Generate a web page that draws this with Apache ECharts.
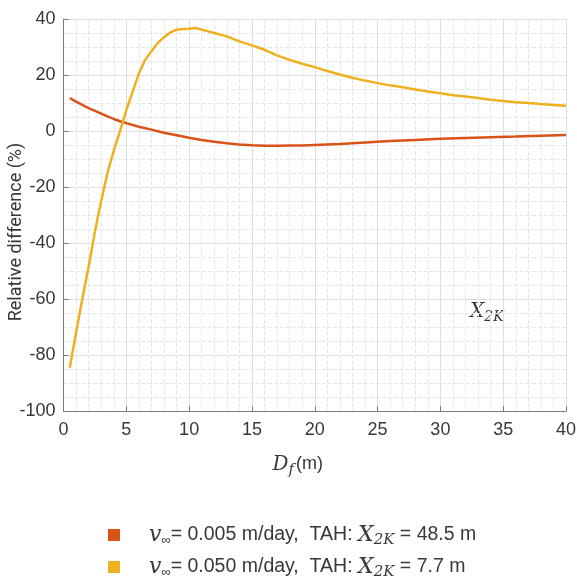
<!DOCTYPE html>
<html lang="en">
<head>
<meta charset="UTF-8">
<title>Relative difference X2K</title>
<script src="https://cdn.jsdelivr.net/npm/echarts@6/dist/echarts.min.js"></script>
<style>
  * { margin: 0; }
  html, body { height: 100%; background: #fff; }
  #chart { width: 577px; height: 578px; }
</style>
</head>
<body>
<div id="chart"></div>
<script>
// v = 0.005 m/day
const dfSlow  = [0.5, 1, 1.5, 2, 2.5, 3, 3.5, 4, 4.5, 5, 6, 7, 8, 9, 10, 11, 12, 13, 14, 15, 16, 17, 18, 19, 20, 22, 24, 26, 28, 30, 32, 34, 36, 38, 40];
const relSlow = [11.8, 10.5, 9.3, 8.2, 7.2, 6.2, 5.2, 4.3, 3.5, 2.8, 1.5, 0.5, -0.6, -1.5, -2.4, -3.2, -3.8, -4.4, -4.8, -5.1, -5.3, -5.3, -5.2, -5.2, -5.0, -4.6, -4.1, -3.6, -3.2, -2.8, -2.5, -2.2, -2.0, -1.7, -1.4];
// v = 0.050 m/day
const dfFast  = [0.5, 1, 1.5, 2, 2.5, 3, 3.5, 4, 4.5, 5, 5.5, 6, 6.5, 7, 7.5, 8, 8.5, 9, 9.5, 10, 10.5, 11, 12, 13, 14, 15, 16, 17, 18, 19, 20, 21, 22, 23, 24, 25, 26, 27, 28, 29, 30, 31, 32, 33, 34, 35, 36, 37, 38, 39, 40];
const relFast = [-84.5, -72, -60, -48.5, -36, -25, -15, -7, 0, 7.5, 14, 20.5, 25.4, 28.5, 31.4, 33.5, 35.2, 36.2, 36.4, 36.5, 36.8, 36.2, 35, 33.8, 32, 30.6, 29, 27, 25.4, 24, 22.8, 21.4, 20.2, 19, 18, 17.1, 16.3, 15.6, 14.8, 14.1, 13.5, 12.8, 12.3, 11.8, 11.2, 10.7, 10.3, 10, 9.6, 9.3, 9];

const legendText = {
  slow: '{v|v}{inf|∞}{t|= 0.005 m/day,  TAH: }{x|X}{sub|2K}{t| = 48.5 m}',
  fast: '{v|v}{inf|∞}{t|= 0.050 m/day,  TAH: }{x|X}{sub|2K}{t| = 7.7 m}'
};

const sans = 'Liberation Sans';
const serif = 'DejaVu Serif';
const ink = '#383838';

const chart = echarts.init(document.getElementById('chart'));
chart.setOption({
  animation: false,
  grid: { left: 63.5, right: 11, top: 19, bottom: 167, outerBoundsMode: 'none', containLabel: false },
  xAxis: {
    type: 'value', min: 0, max: 40, interval: 5,
    name: '{d|D}{f|f}{u|(m)}',
    nameLocation: 'middle', nameGap: 40, nameMoveOverlap: false,
    nameTextStyle: {
      padding: [0, 34, 0, 0],
      rich: {
        d: { fontFamily: serif, fontStyle: 'italic', fontSize: 20, color: ink },
        f: { fontFamily: serif, fontStyle: 'italic', fontSize: 15, color: ink, padding: [12, 2, 0, 0] },
        u: { fontFamily: sans, fontSize: 18, color: ink }
      }
    },
    axisLine: { onZero: false, lineStyle: { color: '#7a7a7a', width: 1 } },
    axisTick: { inside: true, length: 5, lineStyle: { color: '#7a7a7a' } },
    axisLabel: { fontFamily: sans, fontSize: 18, color: ink, margin: 10 },
    splitLine: { lineStyle: { color: '#dedede' } },
    minorTick: { show: false, splitNumber: 5 },
    minorSplitLine: { show: true, lineStyle: { color: '#e6e6e6', type: 'dashed' } }
  },
  yAxis: {
    type: 'value', min: -100, max: 40, interval: 20,
    name: 'Relative difference (%)',
    nameLocation: 'middle', nameGap: 38, nameMoveOverlap: false,
    nameTextStyle: { fontFamily: 'Roboto', fontSize: 18, color: ink, padding: [0, 34, 0, 0] },
    axisLine: { show: true, onZero: false, lineStyle: { color: '#7a7a7a', width: 1 } },
    axisTick: { show: true, inside: true, length: 5, lineStyle: { color: '#7a7a7a' } },
    axisLabel: { fontFamily: sans, fontSize: 18, color: ink, margin: 8 },
    splitLine: { lineStyle: { color: '#dedede' } },
    minorTick: { show: false, splitNumber: 4 },
    minorSplitLine: { show: true, lineStyle: { color: '#e6e6e6', type: 'dashed' } }
  },
  legend: {
    orient: 'vertical', left: 103, top: 519, height: 70, itemGap: 8,
    icon: 'rect', itemWidth: 12, itemHeight: 12,
    formatter: name => legendText[name],
    textStyle: {
      padding: [0, 0, 0, 24],
      rich: {
        v: { fontFamily: serif, fontStyle: 'italic', fontSize: 22, color: ink },
        inf: { fontFamily: sans, fontSize: 13, color: ink, padding: [11, 0, 0, 0] },
        t: { fontFamily: sans, fontSize: 19.5, color: ink },
        x: { fontFamily: serif, fontStyle: 'italic', fontSize: 22, color: ink },
        sub: { fontFamily: serif, fontStyle: 'italic', fontSize: 15, color: ink, padding: [11, 0, 0, 0] }
      }
    },
    data: ['slow', 'fast']
  },
  graphic: [{
    type: 'text', left: 470, top: 302,
    style: {
      text: '{x|X}{sub|2K}',
      rich: {
        x: { fontFamily: serif, fontStyle: 'italic', fontSize: 20, fill: ink },
        sub: { fontFamily: serif, fontStyle: 'italic', fontSize: 14, fill: ink, padding: [10, 0, 0, 0] }
      }
    }
  }],
  series: [
    {
      name: 'slow', type: 'line', showSymbol: false, color: '#D95319',
      lineStyle: { width: 2.5 },
      data: dfSlow.map((d, i) => [d, relSlow[i]])
    },
    {
      name: 'fast', type: 'line', showSymbol: false, color: '#EDB120',
      lineStyle: { width: 2.5 },
      data: dfFast.map((d, i) => [d, relFast[i]])
    }
  ]
});
</script>
</body>
</html>
